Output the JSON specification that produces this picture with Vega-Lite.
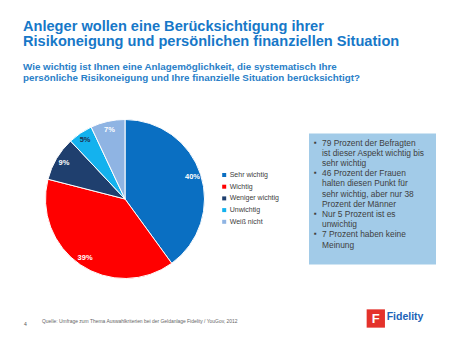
{
  "$schema": "https://vega.github.io/schema/vega-lite/v6.json",
  "background": "white",
  "padding": {"left": 23, "top": 18, "right": 0, "bottom": 0},
  "config": {"font": "Liberation Sans", "view": {"stroke": null}},
  "title": {
    "text": ["Anleger wollen eine Berücksichtigung ihrer", "Risikoneigung und persönlichen finanziellen Situation"],
    "subtitle": ["Wie wichtig ist Ihnen eine Anlagemöglichkeit, die systematisch Ihre", "persönliche Risikoneigung und Ihre finanzielle Situation berücksichtigt?"],
    "anchor": "start",
    "frame": "group",
    "font": "Liberation Sans",
    "fontSize": 14.6,
    "fontWeight": "bold",
    "color": "#1778c8",
    "lineHeight": 15.5,
    "subtitleFont": "Liberation Sans",
    "subtitleFontSize": 9.8,
    "subtitleFontWeight": "bold",
    "subtitleColor": "#2a80c8",
    "subtitleLineHeight": 11,
    "subtitlePadding": 13,
    "offset": 35
  },
  "datasets": {
    "slices": [
      {"cat": "Sehr wichtig", "share": 0.40, "rank": 1},
      {"cat": "Wichtig", "share": 0.39, "rank": 2},
      {"cat": "Weniger wichtig", "share": 0.09, "rank": 3},
      {"cat": "Unwichtig", "share": 0.05, "rank": 4},
      {"cat": "Weiß nicht", "share": 0.07, "rank": 5}
    ],
    "notes": [
      {"point": 1, "line": 0, "lead": true, "text": "79 Prozent der Befragten"},
      {"point": 1, "line": 1, "lead": false, "text": "ist dieser Aspekt wichtig bis"},
      {"point": 1, "line": 2, "lead": false, "text": "sehr wichtig"},
      {"point": 2, "line": 3, "lead": true, "text": "46 Prozent der Frauen"},
      {"point": 2, "line": 4, "lead": false, "text": "halten diesen Punkt für"},
      {"point": 2, "line": 5, "lead": false, "text": "sehr wichtig, aber nur 38"},
      {"point": 2, "line": 6, "lead": false, "text": "Prozent der Männer"},
      {"point": 3, "line": 7, "lead": true, "text": "Nur 5 Prozent ist es"},
      {"point": 3, "line": 8, "lead": false, "text": "unwichtig"},
      {"point": 4, "line": 9, "lead": true, "text": "7 Prozent haben keine"},
      {"point": 4, "line": 10, "lead": false, "text": "Meinung"}
    ],
    "footer": [
      {"page": "4", "src": "Quelle: Umfrage zum Thema Auswahlkriterien bei der Geldanlage Fidelity / YouGov, 2012", "brand": "Fidelity", "glyph": "F"}
    ]
  },
  "spacing": 27,
  "vconcat": [
    {
      "bounds": "flush",
      "spacing": 82,
      "center": true,
      "hconcat": [
        {
          "width": 204,
          "height": 160,
          "data": {"name": "slices"},
          "encoding": {
            "theta": {"field": "share", "type": "quantitative", "stack": true},
            "order": {"field": "rank", "type": "quantitative"}
          },
          "layer": [
            {
              "mark": {"type": "arc", "outerRadius": 79.5, "stroke": "white", "strokeWidth": 1},
              "encoding": {
                "color": {
                  "field": "cat",
                  "type": "nominal",
                  "sort": null,
                  "scale": {
                    "domain": ["Sehr wichtig", "Wichtig", "Weniger wichtig", "Unwichtig", "Weiß nicht"],
                    "range": ["#0a6fc2", "#ff0000", "#1f3f6e", "#14b2ee", "#8fb4e3"]
                  },
                  "legend": {
                    "title": null,
                    "orient": "none",
                    "legendX": 197.7,
                    "legendY": 52.5,
                    "padding": 0,
                    "symbolType": "square",
                    "symbolSize": 16,
                    "symbolStrokeWidth": 0,
                    "labelFontSize": 7,
                    "labelColor": "#404040",
                    "labelOffset": 2,
                    "rowPadding": 3.7
                  }
                }
              }
            },
            {
              "mark": {"type": "text", "radius": 71, "fontSize": 7.5, "fontWeight": "bold"},
              "encoding": {
                "text": {"field": "share", "type": "quantitative", "format": ".0%"},
                "color": {
                  "condition": {"test": "datum.cat === 'Unwichtig'", "value": "#1f2f4e"},
                  "value": "white"
                }
              }
            }
          ]
        },
        {
          "width": 127,
          "height": 131,
          "view": {"fill": "#a2cbe8", "stroke": null},
          "data": {"name": "notes"},
          "encoding": {
            "y": {"field": "line", "type": "quantitative", "scale": {"domain": [0, 10], "range": [9, 111]}, "axis": null},
            "yOffset": {"field": "point", "type": "quantitative", "scale": {"domain": [1, 4], "range": [0, 12.9]}}
          },
          "layer": [
            {
              "mark": {"type": "text", "align": "left", "dx": -50.5, "fontSize": 8.4, "color": "#3f3f3f"},
              "encoding": {"text": {"field": "text"}}
            },
            {
              "transform": [{"filter": "datum.lead"}],
              "mark": {"type": "text", "align": "center", "dx": -57, "fontSize": 8, "color": "#3f3f3f", "text": "▪"}
            }
          ]
        }
      ]
    },
    {
      "width": 400,
      "height": 20,
      "data": {"name": "footer"},
      "layer": [
        {
          "mark": {"type": "text", "align": "left", "dx": -199, "dy": 6, "fontSize": 5, "color": "#555555"},
          "encoding": {"text": {"field": "page"}}
        },
        {
          "mark": {"type": "text", "align": "left", "dx": -181, "dy": 3.5, "fontSize": 4.95, "color": "#666666"},
          "encoding": {"text": {"field": "src"}}
        },
        {
          "mark": {"type": "point", "shape": "square", "size": 335, "filled": true, "opacity": 1, "color": "#e4322b", "xOffset": 152.8, "yOffset": 0.5},
          "encoding": {}
        },
        {
          "mark": {"type": "text", "align": "center", "dx": 152.8, "dy": 0.5, "fontSize": 13, "fontWeight": "bold", "color": "white"},
          "encoding": {"text": {"field": "glyph"}}
        },
        {
          "mark": {"type": "text", "align": "left", "dx": 163.7, "dy": -1, "fontSize": 10.5, "fontWeight": "bold", "color": "#1c63b7"},
          "encoding": {"text": {"field": "brand"}}
        }
      ]
    }
  ]
}
